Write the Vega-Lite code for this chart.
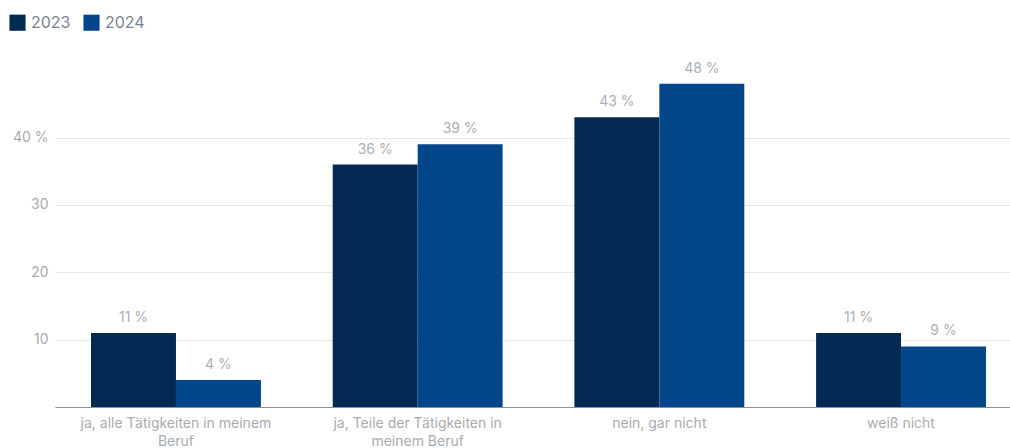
{
  "$schema": "https://vega.github.io/schema/vega-lite/v6.json",
  "autosize": {"type": "none"},
  "width": 967,
  "height": 357,
  "padding": {"left": 55, "top": 50, "right": 0, "bottom": 41},
  "background": "white",
  "config": {
    "view": {"stroke": null},
    "font": "Inter",
    "axis": {"labelFont": "Inter", "labelFontSize": 14, "labelColor": "#a7abb2", "titleFont": "Inter"},
    "legend": {"labelFont": "Inter"}
  },
  "data": {
    "values": [
      {"category": "ja, alle Tätigkeiten in meinem Beruf", "year": "2023", "value": 11},
      {"category": "ja, alle Tätigkeiten in meinem Beruf", "year": "2024", "value": 4},
      {"category": "ja, Teile der Tätigkeiten in meinem Beruf", "year": "2023", "value": 36},
      {"category": "ja, Teile der Tätigkeiten in meinem Beruf", "year": "2024", "value": 39},
      {"category": "nein, gar nicht", "year": "2023", "value": 43},
      {"category": "nein, gar nicht", "year": "2024", "value": 48},
      {"category": "weiß nicht", "year": "2023", "value": 11},
      {"category": "weiß nicht", "year": "2024", "value": 9}
    ]
  },
  "transform": [{"calculate": "format(datum.value, 'd') + ' %'", "as": "label"}],
  "encoding": {
    "x": {
      "field": "category",
      "type": "nominal",
      "sort": null,
      "scale": {"paddingInner": 0.297, "paddingOuter": 0.149},
      "axis": {
        "title": null,
        "labelAngle": 0,
        "labelLimit": 0,
        "domainColor": "#8a8f98",
        "domainWidth": 1,
        "ticks": false,
        "labelPadding": 9,
        "labelLineHeight": 18,
        "labelExpr": "datum.value == 'ja, alle Tätigkeiten in meinem Beruf' ? ['ja, alle Tätigkeiten in meinem', 'Beruf'] : datum.value == 'ja, Teile der Tätigkeiten in meinem Beruf' ? ['ja, Teile der Tätigkeiten in', 'meinem Beruf'] : datum.label"
      }
    },
    "xOffset": {"field": "year", "type": "nominal", "scale": {"paddingInner": 0, "paddingOuter": 0}},
    "y": {
      "field": "value",
      "type": "quantitative",
      "scale": {"domain": [0, 53], "nice": false},
      "axis": {
        "title": null,
        "values": [10, 20, 30, 40],
        "domain": false,
        "ticks": false,
        "labelPadding": 7,
        "gridColor": "#e8e8e8",
        "labelExpr": "datum.value == 40 ? '40 %' : datum.label"
      }
    }
  },
  "layer": [
    {
      "mark": {"type": "bar"},
      "encoding": {
        "color": {
          "field": "year",
          "type": "nominal",
          "scale": {"domain": ["2023", "2024"], "range": ["#022a52", "#03468a"]},
          "legend": {
            "title": null,
            "orient": "none",
            "direction": "horizontal",
            "legendX": -46,
            "legendY": -36,
            "symbolType": "square",
            "symbolSize": 260,
            "symbolStrokeWidth": 0,
            "labelFontSize": 16,
            "labelColor": "#7b8494",
            "labelOffset": 5,
            "columnPadding": 12
          }
        }
      }
    },
    {
      "mark": {"type": "text", "baseline": "bottom", "dy": -8, "fontSize": 14, "color": "#abafb6"},
      "encoding": {"text": {"field": "label"}}
    }
  ]
}
